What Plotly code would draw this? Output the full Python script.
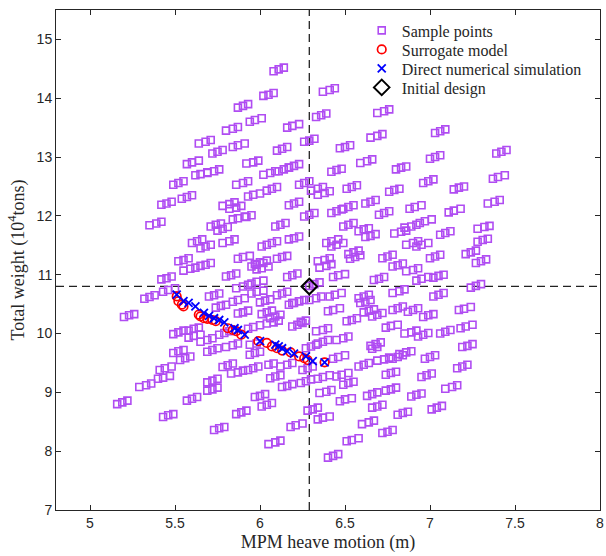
import plotly.graph_objects as go

# Sample points (groups of neighbouring designs, one group per line)
sample_x = [
    6.08, 6.11, 6.14,  6.02, 6.05, 6.08,  6.37, 6.41, 6.44,  5.87, 5.90, 5.93,
    6.33, 6.36, 6.39,  5.94, 5.97, 6.01,  6.16, 6.19, 6.23,  5.80, 5.84, 5.87,
    6.69, 6.73, 6.76,  6.26, 6.29, 6.32,  5.64, 5.68, 5.71,  6.65, 6.69, 6.72,
    7.03, 7.06, 7.09,  6.47, 6.50, 6.53,  5.72, 5.75, 5.78,  5.84, 5.87, 5.91,
    6.10, 6.13, 6.16,  5.57, 5.60, 5.64,  5.92, 5.96, 5.99,  6.17, 6.20, 6.23,
    7.00, 7.03, 7.06,  6.59, 6.63, 6.66,  7.39, 7.42, 7.45,  5.62, 5.65, 5.69,
    5.69, 5.73, 5.76,  6.02, 6.06, 6.09,  6.11, 6.14, 6.17,  6.42, 6.45, 6.48,
    6.80, 6.83, 6.86,  5.49, 5.52, 5.55,  5.86, 5.90, 5.93,  6.23, 6.26, 6.29,
    6.96, 6.99, 7.02,  7.37, 7.40, 7.44,  6.30, 6.34, 6.37,  6.34, 6.38, 6.41,
    6.51, 6.54, 6.57,  6.76, 6.79, 6.82,  7.14, 7.17, 7.20,  5.54, 5.57, 5.60,
    5.42, 5.45, 5.48,  5.93, 5.96, 6.00,  6.04, 6.07, 6.10,  5.78, 5.82, 5.85,
    5.82, 5.86, 5.89,  6.17, 6.20, 6.23,  6.49, 6.52, 6.55,  6.62, 6.65, 6.68,
    6.26, 6.29, 6.32,  6.42, 6.45, 6.48,  6.70, 6.73, 6.76,  6.88, 6.91, 6.95,
    7.11, 7.14, 7.18,  7.34, 7.38, 7.41,  5.35, 5.39, 5.42,  5.71, 5.74, 5.77,
    5.75, 5.78, 5.81,  5.84, 5.87, 5.91,  5.92, 5.95,        6.09, 6.12, 6.15,
    6.49, 6.52, 6.55,  6.58, 6.61, 6.64,  6.62, 6.65, 6.68,  6.79, 6.83, 6.86,
    6.85, 6.89, 6.92,  6.94, 6.97, 7.01,  7.06, 7.09, 7.12,  7.28, 7.32, 7.35,
    5.60, 5.63, 5.66,  5.65, 5.68, 5.71,  5.78, 5.82, 5.85,  6.17, 6.20, 6.23,
    6.01, 6.04, 6.07, 6.10,  6.39, 6.42, 6.46,  6.42, 6.45, 6.49,  6.86, 6.90, 6.93,
    6.92, 6.95, 6.99,  7.28, 7.31, 7.34,  6.52, 6.55, 6.58,  6.53, 6.56, 6.59,
    5.52, 5.55, 5.58,  5.87, 5.90, 5.94,  6.10, 6.13, 6.16,  5.97, 6.00, 6.04,
    6.34, 6.38, 6.41,  6.72, 6.75, 6.78,  7.00, 7.03, 7.06,  7.21, 7.24, 7.27,
    7.27, 7.30, 7.33,  5.55, 5.59, 5.62,  5.65, 5.68, 5.71,  5.80, 5.83, 5.86,
    5.95, 5.98, 6.02,  5.98, 6.01, 6.05,  6.16, 6.19, 6.22,  6.35, 6.39, 6.42,
    6.78, 6.81, 6.84,  6.86, 6.90, 6.93,  6.43, 6.46, 6.50,  6.67, 6.70, 6.73,
    6.92, 6.95, 6.99,  7.02, 7.05, 7.08,  5.42, 5.45, 5.48,  5.32, 5.35, 5.38,
    5.43, 5.46, 5.50,  5.70, 5.73, 5.76,  5.86, 5.90, 5.93,  5.95, 5.98, 6.02,
    5.95, 5.98, 6.02,  6.10, 6.13, 6.16,  7.24, 7.27, 7.30,  6.78, 6.82, 6.85,
    6.41, 6.44, 6.48,  6.58, 6.61, 6.64,  7.02, 7.05, 7.08,  6.19, 6.23, 6.26,
    5.74, 5.77, 5.80,  5.84, 5.87, 5.91,  6.00, 6.03, 6.06,  6.17, 6.20, 6.23,
    6.59, 6.62, 6.65,  5.20, 5.23, 5.26,  5.87, 5.90, 5.93,  6.01, 6.04, 6.07,
    6.06, 6.09, 6.12,  6.40, 6.43, 6.47,  6.61, 6.64, 6.67,  6.78, 6.81, 6.84,
    6.87, 6.90, 6.93,  6.96, 6.99, 7.02,  7.17, 7.20, 7.24,  6.51, 6.54, 6.57,
    6.66, 6.69, 6.72,  6.04, 6.08, 6.11,  6.19, 6.22, 6.25,  5.49, 5.52, 5.55,
    5.58, 5.61, 5.64,  5.58, 5.61, 5.65,  5.65, 5.69, 5.72,  5.76, 5.79, 5.82,
    5.93, 5.96, 6.00,  6.33, 6.37, 6.40,  6.74, 6.77, 6.81,  6.85, 6.89, 6.92,
    6.93, 6.96, 6.99,  7.06, 7.09, 7.12,  7.18, 7.21, 7.25,  6.34, 6.37, 6.40,
    6.45, 6.49, 6.52,  6.65, 6.68, 6.71,  6.66, 6.69,        7.19, 7.22, 7.25,
    6.27, 6.30, 6.33,  5.69, 5.72, 5.75,  5.80, 5.84, 5.87,  5.94, 5.97, 6.00,
    5.49, 5.52, 5.55,  5.53, 5.56, 5.59,  6.78, 6.81, 6.84,  6.82, 6.86, 6.89,
    6.97, 7.00, 7.03,  6.43, 6.46, 6.50,  6.12, 6.16, 6.19,  6.05, 6.08,
    5.78, 5.81, 5.84,  5.83, 5.87, 5.90,  5.93, 5.96, 5.99,  5.41, 5.44, 5.48,
    5.40, 5.43, 5.47,  6.58, 6.61, 6.64,  6.69, 6.73, 6.76,  7.16, 7.19, 7.22,
    5.69, 5.72, 5.75,  5.69, 5.72, 5.75,  6.06, 6.09, 6.12,  6.13, 6.16, 6.19,
    6.24, 6.27, 6.30,  6.34, 6.37, 6.41,  6.45, 6.48, 6.52,  6.49, 6.52, 6.55,
    6.74, 6.77, 6.80,  6.95, 6.98, 7.01,  5.29, 5.33, 5.36,  7.09, 7.13, 7.16,
    6.35, 6.39, 6.42,  6.63, 6.66, 6.69,  6.74, 6.77, 6.80,  5.97, 6.00, 6.03,
    5.57, 5.60, 5.63,  5.16, 5.19, 5.22,  6.01, 6.04, 6.07,  6.47, 6.50, 6.54,
    6.89, 6.92, 6.95,  6.28, 6.31, 6.34,  6.66, 6.69, 6.72,  7.01, 7.04, 7.07,
    6.81, 6.84, 6.87,  5.86, 5.89, 5.92,  5.43, 5.46, 5.49,  6.34, 6.37, 6.41,
    6.60, 6.64, 6.67,  6.18, 6.21, 6.25,  5.73, 5.76, 5.79,  6.72, 6.75, 6.78,
    6.05, 6.09, 6.12,  6.51, 6.54, 6.58,  6.40, 6.43, 6.46,  6.29, 6.32, 6.35,
    6.29, 6.33, 6.36,  6.24, 6.27,        5.94, 5.98,        6.25, 6.28, 6.31,
]
sample_y = [
    14.46, 14.49, 14.52,  14.04, 14.06, 14.09,  14.11, 14.14, 14.17,  13.84, 13.87, 13.90,
    13.68, 13.71, 13.74,  13.60, 13.63, 13.66,  13.50, 13.53, 13.56,  13.45, 13.48, 13.51,
    13.75, 13.78, 13.81,  13.26, 13.28, 13.31,  13.23, 13.26, 13.29,  13.33, 13.36, 13.39,
    13.41, 13.44, 13.47,  13.15, 13.17, 13.20,  13.06, 13.09, 13.12,  13.17, 13.20, 13.23,
    13.11, 13.14, 13.17,  12.88, 12.91, 12.94,  12.89, 12.91, 12.94,  12.82, 12.85, 12.88,
    12.97, 13.00, 13.03,  12.90, 12.93, 12.96,  13.06, 13.09, 13.12,  12.69, 12.71, 12.74,
    12.73, 12.76, 12.79,  12.70, 12.73, 12.76,  12.76, 12.79, 12.82,  12.75, 12.78, 12.80,
    12.79, 12.82, 12.84,  12.53, 12.56, 12.59,  12.53, 12.56, 12.59,  12.53, 12.56, 12.59,
    12.56, 12.59, 12.62,  12.63, 12.66, 12.69,  12.43, 12.46, 12.49,  12.36, 12.39, 12.42,
    12.46, 12.49, 12.52,  12.41, 12.44, 12.46,  12.45, 12.48, 12.50,  12.29, 12.32, 12.35,
    12.19, 12.21, 12.24,  12.33, 12.36, 12.38,  12.43, 12.46, 12.49,  12.17, 12.20, 12.23,
    12.12, 12.14, 12.17,  12.18, 12.21, 12.24,  12.12, 12.15, 12.18,  12.21, 12.24, 12.27,
    11.99, 12.02, 12.05,  12.05, 12.08, 12.11,  12.02, 12.05, 12.08,  12.12, 12.15, 12.18,
    12.06, 12.09, 12.12,  12.21, 12.24, 12.27,  11.84, 11.87, 11.90,  11.82, 11.85, 11.87,
    11.75, 11.78, 11.81,  11.94, 11.96, 11.99,  11.98, 12.01,         11.82, 11.85, 11.88,
    11.82, 11.85, 11.88,  11.74, 11.77, 11.79,  11.64, 11.66, 11.69,  11.70, 11.73, 11.75,
    11.80, 11.82, 11.85,  11.88, 11.91, 11.94,  11.68, 11.71, 11.74,  11.78, 11.81, 11.83,
    11.54, 11.57, 11.60,  11.45, 11.48, 11.51,  11.54, 11.57, 11.60,  11.60, 11.62, 11.65,
    11.48, 11.51, 11.54, 11.57,  11.54, 11.57, 11.60,  11.48, 11.51, 11.54,  11.51, 11.54, 11.57,
    11.48, 11.51, 11.54,  11.56, 11.59, 11.61,  11.35, 11.38, 11.41,  11.27, 11.30, 11.33,
    11.23, 11.25, 11.28,  11.27, 11.30, 11.32,  11.27, 11.30, 11.32,  11.18, 11.21, 11.24,
    11.23, 11.25, 11.28,  11.28, 11.31, 11.34,  11.28, 11.31, 11.34,  11.35, 11.38, 11.41,
    11.20, 11.23, 11.26,  11.07, 11.10, 11.12,  11.15, 11.17, 11.20,  10.97, 10.99, 11.02,
    11.14, 11.17, 11.20,  11.09, 11.11, 11.14,  10.96, 10.99, 11.02,  11.12, 11.15, 11.18,
    11.14, 11.16, 11.19,  11.06, 11.08, 11.11,  10.96, 10.99, 11.01,  10.91, 10.93, 10.96,
    10.90, 10.93, 10.96,  10.95, 10.98, 11.00,  10.92, 10.94, 10.97,  10.59, 10.62, 10.65,
    10.71, 10.74, 10.77,  10.63, 10.65, 10.68,  10.77, 10.80, 10.83,  10.85, 10.88, 10.90,
    10.68, 10.71, 10.73,  10.65, 10.68, 10.71,  10.78, 10.81, 10.84,  10.69, 10.72, 10.75,
    10.63, 10.66, 10.69,  10.60, 10.63, 10.66,  10.63, 10.66, 10.69,  10.52, 10.55, 10.57,
    10.44, 10.47, 10.49,  10.54, 10.57, 10.60,  10.53, 10.56, 10.58,  10.49, 10.52, 10.55,
    10.52, 10.54, 10.57,  10.28, 10.31, 10.33,  10.34, 10.36, 10.39,  10.33, 10.36, 10.39,
    10.26, 10.29, 10.32,  10.38, 10.40, 10.43,  10.36, 10.39, 10.41,  10.40, 10.43, 10.46,
    10.37, 10.40, 10.43,  10.28, 10.31, 10.33,  10.40, 10.42, 10.45,  10.21, 10.23, 10.26,
    10.29, 10.32, 10.35,  10.17, 10.19, 10.22,  10.12, 10.15, 10.18,  9.99, 10.02, 10.05,
    10.05, 10.08, 10.10,  9.93, 9.96, 9.98,  9.86, 9.89, 9.92,  9.98, 10.01, 10.04,
    10.08, 10.11, 10.14,  10.04, 10.06, 10.09,  10.10, 10.13, 10.15,  10.00, 10.02, 10.05,
    9.95, 9.98, 10.01,  10.00, 10.03, 10.06,  10.09, 10.12, 10.15,  9.83, 9.86, 9.89,
    9.89, 9.92, 9.95,  9.79, 9.82, 9.85,  9.74, 9.77,        9.77, 9.79, 9.82,
    9.75, 9.78, 9.81,  9.69, 9.72, 9.75,  9.77, 9.80, 9.83,  9.64, 9.67, 9.69,
    9.67, 9.70, 9.72,  9.55, 9.58, 9.61,  9.57, 9.60, 9.63,  9.65, 9.68, 9.70,
    9.57, 9.60, 9.63,  9.57, 9.60, 9.63,  9.44, 9.47, 9.50,  9.47, 9.49,
    9.43, 9.46, 9.49,  9.32, 9.34, 9.37,  9.38, 9.41, 9.44,  9.38, 9.41, 9.44,
    9.23, 9.25, 9.28,  9.44, 9.47, 9.50,  9.54, 9.56, 9.59,  9.41, 9.44, 9.47,
    9.17, 9.20, 9.23,  9.03, 9.05, 9.08,  9.24, 9.27, 9.29,  9.09, 9.11, 9.14,
    9.16, 9.19, 9.22,  9.23, 9.26, 9.29,  9.27, 9.30, 9.33,  9.13, 9.16, 9.18,
    9.30, 9.33, 9.35,  9.26, 9.29, 9.32,  9.09, 9.12, 9.15,  9.06, 9.09, 9.12,
    8.99, 9.01, 9.04,  8.94, 8.97, 9.00,  9.03, 9.05, 9.08,  8.92, 8.94, 8.97,
    8.86, 8.89, 8.92,  8.80, 8.83, 8.86,  8.76, 8.79, 8.82,  8.85, 8.88, 8.90,
    8.93, 8.96, 8.98,  8.69, 8.71, 8.74,  8.74, 8.76, 8.79,  8.71, 8.74, 8.77,
    8.62, 8.65, 8.67,  8.63, 8.66, 8.69,  8.58, 8.61, 8.63,  8.54, 8.57, 8.59,
    8.46, 8.49, 8.52,  8.41, 8.44, 8.47,  8.36, 8.39, 8.41,  8.31, 8.33, 8.36,
    8.12, 8.15, 8.18,  8.17, 8.19, 8.22,  7.89, 7.92, 7.95,  10.81, 10.84, 10.87,
    10.57, 10.60, 10.63,  10.20, 10.22,        9.81, 9.83,        9.38, 9.41, 9.44,
]

# Pareto-optimal designs predicted by the surrogate model
surrogate_x = [5.51, 5.52, 5.54, 5.55, 5.64, 5.65, 5.67, 5.69, 5.72, 5.74,
               5.81, 5.84, 5.86, 5.89, 5.99, 6.04, 6.07, 6.10, 6.13, 6.18,
               6.23, 6.26, 6.28, 6.38]
surrogate_y = [10.63, 10.55, 10.49, 10.46, 10.32, 10.29, 10.26, 10.25, 10.23, 10.21,
               10.09, 10.06, 10.04, 9.98, 9.87, 9.84, 9.78, 9.75, 9.71, 9.68,
               9.61, 9.58, 9.55, 9.51]

# Pareto-optimal designs from direct numerical simulation
dns_x = [5.51, 5.55, 5.58, 5.62, 5.67, 5.70, 5.73, 5.76, 5.79, 5.85,
         5.87, 5.91, 6.00, 6.09, 6.11, 6.13, 6.16, 6.20, 6.27, 6.31, 6.38]
dns_y = [10.66, 10.55, 10.52, 10.46, 10.35, 10.30, 10.26, 10.23, 10.19, 10.09,
         10.06, 9.98, 9.87, 9.81, 9.78, 9.75, 9.70, 9.66, 9.61, 9.53, 9.51]

# Initial design
initial_x = [6.29]
initial_y = [10.80]

x_range = [4.8, 8.0]
y_range = [7.0, 15.5]
x_ticks = [5, 5.5, 6, 6.5, 7, 7.5, 8]
y_ticks = [7, 8, 9, 10, 11, 12, 13, 14, 15]

serif = "Liberation Serif, Times New Roman, serif"
sans = "Liberation Sans, Arial, sans-serif"
axis_col = "#262626"

fig = go.Figure()

fig.add_trace(go.Scatter(
    x=sample_x, y=sample_y, mode="markers", name="Sample points", legend="legend",
    marker=dict(symbol="square-open", size=7, color="#B04CF2",
                line=dict(width=1.6, color="#B04CF2")),
))
fig.add_trace(go.Scatter(
    x=surrogate_x, y=surrogate_y, mode="markers", name="Surrogate model", legend="legend2",
    marker=dict(symbol="circle-open", size=8.5, color="#FF0000",
                line=dict(width=1.7, color="#FF0000")),
))
fig.add_trace(go.Scatter(
    x=dns_x, y=dns_y, mode="markers", name="Direct numerical simulation", legend="legend3",
    marker=dict(symbol="x-thin-open", size=8, color="#0000FF",
                line=dict(width=1.8, color="#0000FF")),
))
fig.add_trace(go.Scatter(
    x=initial_x, y=initial_y, mode="markers", name="Initial design", legend="legend4",
    marker=dict(symbol="diamond-open", size=12, color="#000000",
                line=dict(width=2, color="#000000")),
))

# Reference lines through the initial design
fig.add_shape(type="line", xref="x", yref="paper", x0=initial_x[0], x1=initial_x[0],
              y0=0, y1=1, line=dict(color="#222222", width=1.3, dash="8px,5px"),
              layer="below")
fig.add_shape(type="line", xref="paper", yref="y", x0=0, x1=1,
              y0=initial_y[0], y1=initial_y[0],
              line=dict(color="#222222", width=1.3, dash="8px,5px"), layer="below")

axis_common = dict(
    showgrid=False, zeroline=False, showline=True, linecolor=axis_col, linewidth=1,
    mirror="ticks", ticks="inside", ticklen=5, tickwidth=1, tickcolor=axis_col,
    tickfont=dict(family=sans, size=14, color=axis_col), automargin=False,
)

fig.update_xaxes(range=x_range, tickvals=x_ticks, ticktext=[f"{v:g}" for v in x_ticks],
                 title=dict(text="MPM heave motion (m)",
                            font=dict(family=serif, size=18, color=axis_col),
                            standoff=5),
                 **axis_common)
fig.update_yaxes(range=y_range, tickvals=y_ticks, ticktext=[str(v) for v in y_ticks],
                 title=dict(text="Total weight (10<sup>4</sup>tons)",
                            font=dict(family=serif, size=18, color=axis_col),
                            standoff=7),
                 **axis_common)

# One legend per entry so the rows sit at the same tight spacing
legend_style = dict(x=0.562, xanchor="left", yanchor="top",
                    bgcolor="rgba(255,255,255,0)", borderwidth=0,
                    font=dict(family=serif, size=16, color=axis_col),
                    itemsizing="trace")
legend_rows = [0.993, 0.955, 0.917, 0.879]

fig.update_layout(
    width=606, height=556,
    margin=dict(l=56, r=6, t=10, b=46),
    plot_bgcolor="white", paper_bgcolor="white",
    showlegend=True,
    legend=dict(y=legend_rows[0], **legend_style),
    legend2=dict(y=legend_rows[1], **legend_style),
    legend3=dict(y=legend_rows[2], **legend_style),
    legend4=dict(y=legend_rows[3], **legend_style),
)

fig.write_html("out.html")
